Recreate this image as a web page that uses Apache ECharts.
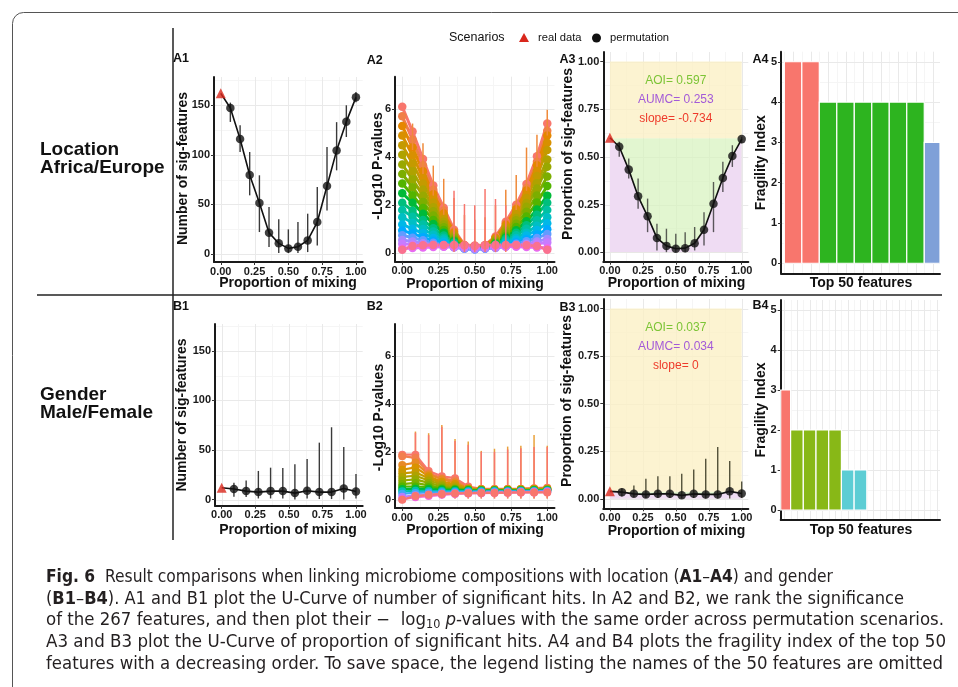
<!DOCTYPE html>
<html>
<head>
<meta charset="utf-8">
<script src="https://cdn.jsdelivr.net/npm/echarts@6.0.0/dist/echarts.min.js"></script>
<style>
html,body{margin:0;padding:0;background:#fff;}
#chart{width:958px;height:687px;}
</style>
</head>
<body>
<div id="chart"></div>
<script>
// ================= DATA =================
const xA = [0, 0.071, 0.143, 0.214, 0.286, 0.357, 0.429, 0.5, 0.571, 0.643, 0.714, 0.786, 0.857, 0.929, 1];
const xB = [0, 0.091, 0.182, 0.273, 0.364, 0.455, 0.545, 0.636, 0.727, 0.818, 0.909, 1];
const xTickVals = [0, 0.25, 0.5, 0.75, 1];

// A1: number of significant features (Location)
const a1Real = 162;
const a1Perm = [147.3, 116, 79.7, 51.5, 21.5, 10.8, 5.7, 7.4, 13.8, 32.3, 68.6, 104.3, 133.5, 158];
const a1Hi = [152.7, 129.8, 102.9, 79.4, 47.4, 35, 24.9, 32.3, 40.7, 67.6, 108, 133, 150, 163.5];
const a1Lo = [133.2, 102.9, 59.2, 22.2, 7, 1, 1, 1, 2, 8.7, 44, 84.4, 118, 153];

// B1: number of significant features (Gender)
const b1Real = 12.1;
const b1Perm = [10.8, 8.7, 7.7, 8.7, 8.7, 6.7, 9.1, 7.7, 7.7, 11.4, 8.4];
const b1Hi = [17, 19.5, 29, 32.3, 32, 35.7, 41, 57.5, 73, 53.1, 26];
const b1Lo = [3, 2.7, 1.3, 1.3, 1.3, 0.3, 1.3, 0.7, 0.7, 0.3, 1.3];

// A3: proportion of significant features (Location)
const a3Real = 0.6;
const a3Perm = [0.553, 0.433, 0.293, 0.188, 0.074, 0.033, 0.018, 0.021, 0.047, 0.118, 0.254, 0.389, 0.504, 0.593];
const a3Hi = [0.579, 0.491, 0.386, 0.281, 0.149, 0.123, 0.096, 0.105, 0.132, 0.21, 0.368, 0.474, 0.561, 0.605];
const a3Lo = [0.5, 0.386, 0.228, 0.105, 0.009, 0, 0, 0, 0.009, 0.035, 0.105, 0.316, 0.447, 0.57];
const a3Stats = { aoi: 0.597, aumc: 0.253, slope: -0.734 };

// B3: proportion of significant features (Gender)
const b3Real = 0.039;
const b3Perm = [0.035, 0.026, 0.023, 0.026, 0.026, 0.018, 0.026, 0.023, 0.023, 0.039, 0.028];
const b3Hi = [0.056, 0.07, 0.105, 0.118, 0.118, 0.132, 0.154, 0.21, 0.272, 0.198, 0.091];
const b3Lo = [0.012, 0.008, 0.004, 0.004, 0.004, 0.001, 0.004, 0.002, 0.002, 0.001, 0.004];
const b3Stats = { aoi: 0.037, aumc: 0.034, slope: 0 };

// A2: -log10 p-values of ranked features (representative subset), x = xA
const a2Curves = [
  [6.1, 5.07, 3.92, 2.82, 1.9, 0.98, 0.35, 0.32, 0.35, 0.7, 1.31, 2.02, 2.88, 4.04, 5.4],
  [5.7, 4.73, 3.66, 2.64, 1.78, 0.92, 0.33, 0.3, 0.33, 0.66, 1.24, 1.9, 2.72, 3.81, 5.1],
  [5.3, 4.4, 3.41, 2.46, 1.66, 0.87, 0.32, 0.29, 0.32, 0.64, 1.19, 1.83, 2.61, 3.66, 4.9],
  [4.9, 4.07, 3.15, 2.28, 1.54, 0.81, 0.3, 0.27, 0.3, 0.6, 1.12, 1.72, 2.45, 3.44, 4.6],
  [4.5, 3.74, 2.9, 2.11, 1.43, 0.76, 0.3, 0.27, 0.3, 0.58, 1.06, 1.62, 2.3, 3.22, 4.3],
  [4.1, 3.41, 2.65, 1.92, 1.31, 0.7, 0.28, 0.25, 0.28, 0.53, 0.97, 1.47, 2.09, 2.92, 3.9],
  [3.7, 3.08, 2.4, 1.75, 1.2, 0.66, 0.28, 0.25, 0.28, 0.51, 0.91, 1.38, 1.94, 2.7, 3.6],
  [3.3, 2.75, 2.14, 1.57, 1.08, 0.59, 0.26, 0.23, 0.26, 0.47, 0.82, 1.23, 1.73, 2.41, 3.2],
  [2.9, 2.42, 1.89, 1.39, 0.97, 0.54, 0.25, 0.22, 0.25, 0.43, 0.73, 1.09, 1.53, 2.11, 2.8],
  [2.5, 2.1, 1.65, 1.22, 0.86, 0.5, 0.25, 0.22, 0.25, 0.4, 0.66, 0.96, 1.33, 1.82, 2.4],
  [2.1, 1.77, 1.39, 1.04, 0.74, 0.44, 0.24, 0.21, 0.24, 0.37, 0.59, 0.85, 1.17, 1.6, 2.1],
  [1.8, 1.52, 1.2, 0.91, 0.65, 0.4, 0.23, 0.2, 0.23, 0.34, 0.53, 0.75, 1.02, 1.38, 1.8],
  [1.5, 1.27, 1.01, 0.77, 0.57, 0.36, 0.22, 0.19, 0.22, 0.31, 0.46, 0.64, 0.86, 1.15, 1.5],
  [1.2, 1.02, 0.83, 0.64, 0.48, 0.33, 0.22, 0.19, 0.22, 0.29, 0.42, 0.56, 0.74, 0.97, 1.25],
  [0.95, 0.82, 0.67, 0.52, 0.4, 0.28, 0.2, 0.17, 0.2, 0.26, 0.35, 0.46, 0.6, 0.78, 1.0],
  [0.75, 0.65, 0.54, 0.44, 0.35, 0.26, 0.2, 0.17, 0.2, 0.24, 0.31, 0.4, 0.5, 0.64, 0.8],
  [0.55, 0.49, 0.42, 0.36, 0.3, 0.24, 0.2, 0.17, 0.2, 0.22, 0.27, 0.33, 0.4, 0.49, 0.6],
  [0.4, 0.37, 0.34, 0.31, 0.28, 0.26, 0.25, 0.22, 0.25, 0.26, 0.29, 0.32, 0.36, 0.4, 0.45],
  [0.2, 0.22, 0.24, 0.26, 0.27, 0.28, 0.3, 0.28, 0.3, 0.29, 0.28, 0.27, 0.26, 0.24, 0.22],
  [0.15, 0.3, 0.33, 0.35, 0.35, 0.35, 0.33, 0.3, 0.33, 0.35, 0.35, 0.35, 0.33, 0.3, 0.15]
];
// A2 error-bar spikes (k = 1..14)
const a2SpikeTopHi = [5.4, 4.58, 3.65, 3.1, 2.3, 1.6, 1.4, 1.5, 2.0, 2.64, 3.26, 4.4, 4.93, 5.97];
const a2SpikeTopLo = [4.3, 3.3, 2.4, 1.6, 0.8, 0.3, 0.3, 0.3, 0.6, 1.1, 1.8, 2.6, 3.6, 4.9];
const a2SpikeLowHi = [null, null, null, null, 2.6, 2.05, 2.0, 2.68, 2.26, 2.0, null, null, null, null];
const a2SpikeLowLo = [null, null, null, null, 0.05, 0.05, 0.05, 0.05, 0.05, 0.05, null, null, null, null];

// B2: -log10 p-values (Gender), x = xB
const b2Curves = [
  [1.88, 1.88, 1.2, 0.98, 0.9, 0.55, 0.45, 0.45, 0.45, 0.45, 0.48, 0.5],
  [1.82, 1.75, 1.1, 0.9, 0.8, 0.5, 0.44, 0.44, 0.44, 0.45, 0.47, 0.48],
  [1.45, 1.55, 1.05, 0.85, 0.72, 0.48, 0.43, 0.42, 0.43, 0.44, 0.45, 0.46],
  [1.25, 1.35, 0.98, 0.75, 0.65, 0.46, 0.42, 0.41, 0.42, 0.42, 0.44, 0.45],
  [1.1, 1.15, 0.9, 0.68, 0.58, 0.45, 0.41, 0.4, 0.41, 0.42, 0.43, 0.44],
  [0.95, 1.0, 0.8, 0.62, 0.52, 0.44, 0.4, 0.4, 0.4, 0.41, 0.42, 0.43],
  [0.8, 0.85, 0.7, 0.56, 0.48, 0.42, 0.4, 0.39, 0.4, 0.4, 0.41, 0.42],
  [0.65, 0.7, 0.6, 0.5, 0.45, 0.41, 0.39, 0.39, 0.39, 0.4, 0.4, 0.41],
  [0.55, 0.55, 0.52, 0.46, 0.43, 0.4, 0.39, 0.38, 0.39, 0.39, 0.4, 0.4],
  [0.45, 0.46, 0.44, 0.42, 0.41, 0.39, 0.38, 0.38, 0.38, 0.38, 0.39, 0.39],
  [0.35, 0.37, 0.36, 0.36, 0.36, 0.36, 0.36, 0.36, 0.36, 0.37, 0.37, 0.38],
  [0.25, 0.28, 0.3, 0.31, 0.32, 0.33, 0.33, 0.34, 0.34, 0.35, 0.35, 0.36],
  [0.12, 0.18, 0.22, 0.25, 0.27, 0.28, 0.29, 0.3, 0.31, 0.32, 0.33, 0.34],
  [0.02, 0.1, 0.15, 0.2, 0.24, 0.26, 0.27, 0.28, 0.29, 0.3, 0.3, 0.32],
  [0.0, 0.15, 0.2, 0.24, 0.26, 0.27, 0.28, 0.28, 0.29, 0.3, 0.3, 0.3]
];
const b2SpikeTopHi = [2.85, 2.78, 3.12, 2.54, 2.43, 2.04, 2.13, 2.22, 2.26, 2.7, 2.26];
const b2SpikeLowHi = [2.8, 2.7, 3.05, 2.45, 2.3, 2.0, 2.0, 2.1, 2.15, 2.2, 2.2];
const b2SpikeLo = [0.05, 0.05, 0.05, 0.05, 0.05, 0.05, 0.05, 0.05, 0.05, 0.05, 0.05];

// A4 / B4: fragility index of top-ranked features (visible part)
const a4Fragility = [5, 5, 4, 4, 4, 4, 4, 4, 3, 3];
const b4Fragility = [3, 2, 2, 2, 2, 1, 1, 0, 0, 0, 0, 0, 0, 0];

// Tick labels
const yTicksNum = [0, 50, 100, 150];
const yTicksLog = [0, 2, 4, 6];
const yTicksProp = [0, 0.25, 0.5, 0.75, 1];
const yTicksFrag = [0, 1, 2, 3, 4, 5];

// ================= STYLE =================
const FONT = '"Liberation Sans", Arial, Helvetica, sans-serif';
const CAPFONT = '"Liberation Sans Narrow", "DejaVu Sans Condensed", "Liberation Sans", sans-serif';
const MAJOR = '#e9e9e9', MINOR = '#f5f5f5';
const RED = '#d9271c', BLACK = '#111111';
const palA2 = ['#F8766D','#F07F48','#E58700','#D89000','#C49A00','#AFA200','#99A800','#7CAE00','#53B400','#00BA38','#00BF7D','#00C1A3','#00BFC4','#00B8E7','#00A9FF','#619CFF','#A58AFF','#C77CFF','#E76BF3','#FA7190'];
const palB2 = ['#F8766D','#F27F4E','#E88A26','#D99300','#C69A00','#AFA200','#96A900','#7AAF00','#4FB500','#00BA38','#00C0B0','#3CA8F5','#B280FF','#F066D8','#F8766D'];
const fragColorsA = {5: '#F8766D', 4: '#2DB41F', 3: '#7FA0D8'};
const fragColorsB = {3: '#F8766D', 2: '#88B817', 1: '#5CCDD4'};

// ================= LAYOUT =================
const grids = [
  {left: 214, top: 77, width: 148.7, height: 185},     // A1
  {left: 395, top: 76.7, width: 159.5, height: 185},   // A2
  {left: 603.3, top: 52, width: 145, height: 209.7},   // A3
  {left: 781, top: 51.7, width: 159, height: 221.6},   // A4
  {left: 215, top: 324, width: 147.7, height: 181.7},  // B1
  {left: 395, top: 324, width: 159.5, height: 184},    // B2
  {left: 603.3, top: 299, width: 145, height: 209.3},  // B3
  {left: 780.7, top: 300, width: 159.3, height: 220}   // B4
];

const labelStyle = {fontFamily: FONT, fontWeight: 'bold', fontSize: 11, color: '#1a1a1a'};
function xAx(gi, min, max, ticks, fmt) {
  return {
    gridIndex: gi, type: 'value', min: min, max: max,
    axisLine: {show: true, onZero: false, lineStyle: {color: '#1a1a1a', width: 2}},
    axisTick: {show: !!ticks, length: 3, customValues: ticks || [], lineStyle: {color: '#333'}},
    axisLabel: Object.assign({show: !!ticks, customValues: ticks || [], margin: 4, formatter: fmt}, labelStyle),
    splitLine: {show: false}
  };
}
function yAx(gi, min, max, ticks, fmt) {
  return {
    gridIndex: gi, type: 'value', min: min, max: max,
    axisLine: {show: true, onZero: false, lineStyle: {color: '#1a1a1a', width: 2}},
    axisTick: {show: true, length: 3, customValues: ticks, lineStyle: {color: '#333'}},
    axisLabel: Object.assign({customValues: ticks, margin: 4, formatter: fmt}, labelStyle),
    splitLine: {show: false}
  };
}
const f2 = v => Number(v).toFixed(2);
const f0 = v => String(Math.round(v));

function gridLines(gi, xMaj, xMin, yMaj, yMin) {
  return {
    type: 'custom', xAxisIndex: gi, yAxisIndex: gi, z: 0, silent: true,
    data: [[0, 0]],
    renderItem: function (params, api) {
      const cs = params.coordSys, ch = [];
      const add = (vals, vertical, color, w) => vals.forEach(v => {
        if (vertical) {
          const x = Math.round(api.coord([v, 0])[0]) + 0.5;
          if (x < cs.x || x > cs.x + cs.width) return;
          ch.push({type: 'line', shape: {x1: x, y1: cs.y, x2: x, y2: cs.y + cs.height}, style: {stroke: color, lineWidth: w}});
        } else {
          const y = Math.round(api.coord([0, v])[1]) + 0.5;
          if (y < cs.y || y > cs.y + cs.height) return;
          ch.push({type: 'line', shape: {x1: cs.x, y1: y, x2: cs.x + cs.width, y2: y}, style: {stroke: color, lineWidth: w}});
        }
      });
      add(xMin, true, MINOR, 1); add(yMin, false, MINOR, 1);
      add(xMaj, true, MAJOR, 1); add(yMaj, false, MAJOR, 1);
      return {type: 'group', children: ch};
    }
  };
}

function errBars(gi, xs, lo, hi, color, width, z) {
  return {
    type: 'custom', xAxisIndex: gi, yAxisIndex: gi, z: z || 2, silent: true,
    data: hi.map((h, i) => [xs[i + 1], lo[i] == null ? NaN : lo[i], h == null ? NaN : h]),
    renderItem: function (params, api) {
      const lv = api.value(1), hv = api.value(2);
      if (isNaN(lv) || isNaN(hv)) return null;
      const p1 = api.coord([api.value(0), lv]);
      const p2 = api.coord([api.value(0), hv]);
      return {type: 'line', shape: {x1: p1[0], y1: p1[1], x2: p2[0], y2: p2[1]}, style: {stroke: color, lineWidth: width}};
    }
  };
}

function uCurve(gi, xs, real, perm, lo, hi, errColor) {
  const lineData = [[xs[0], real]].concat(perm.map((v, i) => [xs[i + 1], v]));
  return [
    errBars(gi, xs, lo, hi, errColor, 1.4, 3),
    {type: 'line', xAxisIndex: gi, yAxisIndex: gi, z: 4, silent: true, data: lineData, symbol: 'none',
     lineStyle: {color: BLACK, width: 1.6}},
    {type: 'scatter', name: 'permutation', xAxisIndex: gi, yAxisIndex: gi, z: 5, silent: true,
     data: perm.map((v, i) => [xs[i + 1], v]), symbol: 'circle', symbolSize: 8.5, itemStyle: {color: BLACK}},
    {type: 'scatter', name: 'real data', xAxisIndex: gi, yAxisIndex: gi, z: 5, silent: true,
     data: [[xs[0], real]], symbol: 'triangle', symbolSize: 10, itemStyle: {color: RED}}
  ];
}

function shading(gi, xs, real, perm, aoi) {
  const curve = [[xs[0], real]].concat(perm.map((v, i) => [xs[i + 1], v]));
  return [
    {type: 'custom', xAxisIndex: gi, yAxisIndex: gi, z: 1, silent: true, data: [[0, aoi]],
     renderItem: function (params, api) {
       const p0 = api.coord([0, 0]), pa = api.coord([1, api.value(1)]), p1 = api.coord([1, 1]);
       return {type: 'group', children: [
         {type: 'rect', shape: {x: p0[0], y: pa[1], width: pa[0] - p0[0], height: p0[1] - pa[1]}, style: {fill: 'rgba(215,243,190,0.72)'}},
         {type: 'rect', shape: {x: p0[0], y: p1[1], width: p1[0] - p0[0], height: pa[1] - p1[1]}, style: {fill: 'rgba(251,240,196,0.78)'}}
       ]};
     }},
    {type: 'line', xAxisIndex: gi, yAxisIndex: gi, z: 1, silent: true, data: curve, symbol: 'none',
     lineStyle: {width: 0, opacity: 0}, areaStyle: {color: '#efdcf3', opacity: 1, origin: 0}}
  ];
}

function statTexts(gi, stats) {
  const items = [
    {t: 'AOI= ' + stats.aoi, y: 0.9, c: '#7cc436'},
    {t: 'AUMC= ' + stats.aumc, y: 0.8, c: '#a35ad8'},
    {t: 'slope= ' + stats.slope, y: 0.7, c: '#ee3b2b'}
  ];
  return {type: 'custom', xAxisIndex: gi, yAxisIndex: gi, z: 6, silent: true,
    data: items.map(d => [0.5, d.y]),
    renderItem: function (params, api) {
      const p = api.coord([api.value(0), api.value(1)]);
      const it = items[params.dataIndex];
      return {type: 'text', x: p[0], y: p[1], style: {text: it.t, fill: it.c, fontFamily: FONT, fontSize: 12, align: 'center', verticalAlign: 'middle'}};
    }};
}

function fragBars(gi, vals, colors) {
  return {type: 'custom', xAxisIndex: gi, yAxisIndex: gi, z: 2, silent: true,
    data: vals.map((v, i) => [i + 1, v]),
    renderItem: function (params, api) {
      const i = api.value(0), v = api.value(1);
      if (!v) return null;
      const a = api.coord([i - 0.5, v]), b = api.coord([i + 0.5, 0]);
      const cs = params.coordSys;
      const r = echarts.graphic.clipRectByRect({x: a[0], y: a[1], width: b[0] - a[0], height: b[1] - a[1]},
        {x: cs.x, y: cs.y, width: cs.width, height: cs.height});
      if (!r) return null;
      return {type: 'rect', shape: r, style: {fill: colors[v], stroke: '#ffffff', lineWidth: 1.2}};
    }};
}

function featureLines(gi, xs, curves, pal, symSize, lw) {
  return curves.map((c, f) => ({
    type: 'line', xAxisIndex: gi, yAxisIndex: gi, z: 2, silent: true,
    data: c.map((v, i) => [xs[i], v]), symbol: 'circle', symbolSize: symSize, showSymbol: true,
    lineStyle: {color: pal[f], width: lw}, itemStyle: {color: pal[f]}
  }));
}

// gridline positions
const xMajP = [0, 0.25, 0.5, 0.75, 1], xMinP = [0.125, 0.375, 0.625, 0.875];
const fragXMaj = [1, 2, 3, 4, 5, 6, 7, 8, 9, 10, 11, 12, 13, 14];
const fragXMin = [0.5, 1.5, 2.5, 3.5, 4.5, 5.5, 6.5, 7.5, 8.5, 9.5, 10.5, 11.5, 12.5, 13.5];

let series = [];
// A1
series.push(gridLines(0, xMajP, xMinP, [0, 50, 100, 150], [25, 75, 125, 175]));
series = series.concat(uCurve(0, xA, a1Real, a1Perm, a1Lo, a1Hi, '#3a3a3a'));
// A2
series.push(gridLines(1, xMajP, xMinP, [0, 2, 4, 6], [1, 3, 5, 7]));
series = series.concat(featureLines(1, xA, a2Curves, palA2, 8.5, 3));
series.push(errBars(1, xA, a2SpikeTopLo, a2SpikeTopHi, '#EF8A3A', 1.5, 3));
series.push(errBars(1, xA, a2SpikeLowLo, a2SpikeLowHi, '#F8766D', 1.5, 3));
// A3
series.push(gridLines(2, xMajP, xMinP, [0, 0.25, 0.5, 0.75, 1], [0.125, 0.375, 0.625, 0.875]));
series = series.concat(shading(2, xA, a3Real, a3Perm, a3Stats.aoi));
series = series.concat(uCurve(2, xA, a3Real, a3Perm, a3Lo, a3Hi, 'rgba(40,40,40,0.75)'));
series.push(statTexts(2, a3Stats));
// A4
series.push(gridLines(3, fragXMaj, fragXMin, [0, 1, 2, 3, 4, 5], [0.5, 1.5, 2.5, 3.5, 4.5]));
series.push(fragBars(3, a4Fragility, fragColorsA));
// B1
series.push(gridLines(4, xMajP, xMinP, [0, 50, 100, 150], [25, 75, 125, 175]));
series = series.concat(uCurve(4, xB, b1Real, b1Perm, b1Lo, b1Hi, '#3a3a3a'));
// B2
series.push(gridLines(5, xMajP, xMinP, [0, 2, 4, 6], [1, 3, 5, 7]));
series.push(errBars(5, xB, b2SpikeLo, b2SpikeTopHi, '#E9A23B', 1.5, 1));
series.push(errBars(5, xB, b2SpikeLo, b2SpikeLowHi, '#F8766D', 1.5, 1));
series = series.concat(featureLines(5, xB, b2Curves, palB2, 8, 2.2));
// B3
series.push(gridLines(6, xMajP, xMinP, [0, 0.25, 0.5, 0.75, 1], [0.125, 0.375, 0.625, 0.875]));
series = series.concat(shading(6, xB, b3Real, b3Perm, b3Stats.aoi));
series = series.concat(uCurve(6, xB, b3Real, b3Perm, b3Lo, b3Hi, 'rgba(40,40,20,0.8)'));
series.push(statTexts(6, b3Stats));
// B4
series.push(gridLines(7, fragXMaj, fragXMin, [0, 1, 2, 3, 4, 5], [0.5, 1.5, 2.5, 3.5, 4.5]));
series.push(fragBars(7, b4Fragility, fragColorsB));

const xAxes = [
  xAx(0, -0.05, 1.05, xTickVals, f2), xAx(1, -0.05, 1.05, xTickVals, f2), xAx(2, -0.05, 1.05, xTickVals, f2), xAx(3, 0.31, 9.4, null),
  xAx(4, -0.05, 1.05, xTickVals, f2), xAx(5, -0.05, 1.05, xTickVals, f2), xAx(6, -0.05, 1.05, xTickVals, f2), xAx(7, 0.72, 13.26, null)
];
const yAxes = [
  yAx(0, -8, 178.5, yTicksNum, f0), yAx(1, -0.35, 7.35, yTicksLog, f0), yAx(2, -0.05, 1.05, yTicksProp, f2), yAx(3, -0.25, 5.25, yTicksFrag, f0),
  yAx(4, -6, 177, yTicksNum, f0), yAx(5, -0.35, 7.35, yTicksLog, f0), yAx(6, -0.05, 1.05, yTicksProp, f2), yAx(7, -0.25, 5.25, yTicksFrag, f0)
];

// ================= TEXT / DECORATION =================
const titleFont = {fontFamily: FONT, fontWeight: 'bold', fontSize: 14, fill: '#111'};
function txt(x, y, s, st, rot) {
  return {type: 'text', x: x, y: y, rotation: rot || 0, silent: true,
    style: Object.assign({text: s, align: 'center', verticalAlign: 'middle'}, st)};
}
const graphics = [];
graphics.push({type: 'rect', silent: true, shape: {x: 12.5, y: 12.5, width: 1000, height: 720, r: 11}, style: {fill: 'none', stroke: '#555', lineWidth: 1}});
graphics.push({type: 'line', silent: true, shape: {x1: 173, y1: 28, x2: 173, y2: 540}, style: {stroke: '#222', lineWidth: 1.5}});
graphics.push({type: 'line', silent: true, shape: {x1: 37, y1: 295, x2: 942, y2: 295}, style: {stroke: '#222', lineWidth: 1.5}});
// Row labels
const rowStyle = {fontFamily: FONT, fontWeight: 'bold', fontSize: 19, fill: '#111', align: 'left'};
graphics.push(txt(40, 150, 'Location', rowStyle));
graphics.push(txt(40, 168, 'Africa/Europe', rowStyle));
graphics.push(txt(40, 395, 'Gender', rowStyle));
graphics.push(txt(40, 412.5, 'Male/Female', rowStyle));
// Legend
graphics.push(txt(449, 38, 'Scenarios', {fontFamily: FONT, fontSize: 12.5, fill: '#111', align: 'left'}));
graphics.push({type: 'polygon', silent: true, shape: {points: [[524, 33], [529, 42], [519, 42]]}, style: {fill: RED}});
graphics.push(txt(538, 38, 'real data', {fontFamily: FONT, fontSize: 11.2, fill: '#111', align: 'left'}));
graphics.push({type: 'circle', silent: true, shape: {cx: 596.5, cy: 38, r: 4.5}, style: {fill: BLACK}});
graphics.push(txt(610, 38, 'permutation', {fontFamily: FONT, fontSize: 11.2, fill: '#111', align: 'left'}));
// Panel tags
const tagStyle = {fontFamily: FONT, fontWeight: 'bold', fontSize: 12.5, fill: '#111', align: 'left'};
[['A1', 173, 58.5], ['A2', 366.7, 60.5], ['A3', 559.5, 60], ['A4', 752.5, 60],
 ['B1', 173, 306.7], ['B2', 366.7, 306.7], ['B3', 559.5, 307.3], ['B4', 752.5, 306]].forEach(t => graphics.push(txt(t[1], t[2], t[0], tagStyle)));
// Axis titles
[[288, 283.5], [475, 284], [676.5, 283.5], [861, 283.5, 'Top 50 features'],
 [288, 530], [475, 530.3], [676.5, 530.7], [861, 530, 'Top 50 features']].forEach(t => graphics.push(txt(t[0], t[1], t[2] || 'Proportion of mixing', titleFont)));
[[183, 168.5, 'Number of sig-features'], [378.5, 166, '-Log10 P-values'], [568.5, 154, 'Proportion of sig-features'], [761, 162.7, 'Fragility Index'],
 [182.5, 415, 'Number of sig-features'], [379, 417.5, '-Log10 P-values'], [567.5, 401, 'Proportion of sig-features'], [761, 410, 'Fragility Index']]
 .forEach(t => graphics.push(txt(t[0], t[1], t[2], titleFont, Math.PI / 2)));

// Caption
const CAPSZ = 17, SUBSZ = 11.5;
const capLines = [
  {y: 578, w: 787, segs: [['b', 'Fig. 6'], ['n', '  Result comparisons when linking microbiome compositions with location ('], ['b', 'A1'], ['n', '–'], ['b', 'A4'], ['n', ') and gender']]},
  {y: 599.5, w: 858, segs: [['n', '('], ['b', 'B1'], ['n', '–'], ['b', 'B4'], ['n', '). A1 and B1 plot the U-Curve of number of significant hits. In A2 and B2, we rank the significance']]},
  {y: 621, w: 898, segs: [['n', 'of the 267 features, and then plot their −  log'], ['s', '10'], ['n', ' '], ['i', 'p'], ['n', '-values with the same order across permutation scenarios.']]},
  {y: 643, w: 900, segs: [['n', 'A3 and B3 plot the U-Curve of proportion of significant hits. A4 and B4 plots the fragility index of the top 50']]},
  {y: 665, w: 897, segs: [['n', 'features with a decreasing order. To save space, the legend listing the names of the 50 features are omitted']]}
];
const ctx2 = document.createElement('canvas').getContext('2d');
function segFont(k) {
  if (k === 'b') return 'bold ' + CAPSZ + 'px ' + CAPFONT;
  if (k === 'i') return 'italic ' + CAPSZ + 'px ' + CAPFONT;
  if (k === 's') return SUBSZ + 'px ' + CAPFONT;
  return CAPSZ + 'px ' + CAPFONT;
}
const capRich = {
  n: {fontFamily: CAPFONT, fontSize: CAPSZ, fill: '#231f20'},
  b: {fontFamily: CAPFONT, fontSize: CAPSZ, fontWeight: 'bold', fill: '#231f20'},
  i: {fontFamily: CAPFONT, fontSize: CAPSZ, fontStyle: 'italic', fill: '#231f20'},
  s: {fontFamily: CAPFONT, fontSize: SUBSZ, fill: '#231f20', padding: [9, 0, 0, 0]}
};
capLines.forEach(L => {
  let w = 0;
  L.segs.forEach(s => { ctx2.font = segFont(s[0]); w += ctx2.measureText(s[1]).width; });
  const text = L.segs.map(s => '{' + s[0] + '|' + s[1] + '}').join('');
  graphics.push({type: 'text', x: 46, y: L.y, scaleX: L.w / w, silent: true,
    style: {text: text, rich: capRich, align: 'left', verticalAlign: 'middle', fontFamily: CAPFONT, fontSize: CAPSZ}});
});

const chart = echarts.init(document.getElementById('chart'), null, {renderer: 'canvas'});
chart.setOption({
  animation: false,
  backgroundColor: '#ffffff',
  grid: grids,
  xAxis: xAxes,
  yAxis: yAxes,
  series: series,
  graphic: {elements: graphics}
});
</script>
</body>
</html>
